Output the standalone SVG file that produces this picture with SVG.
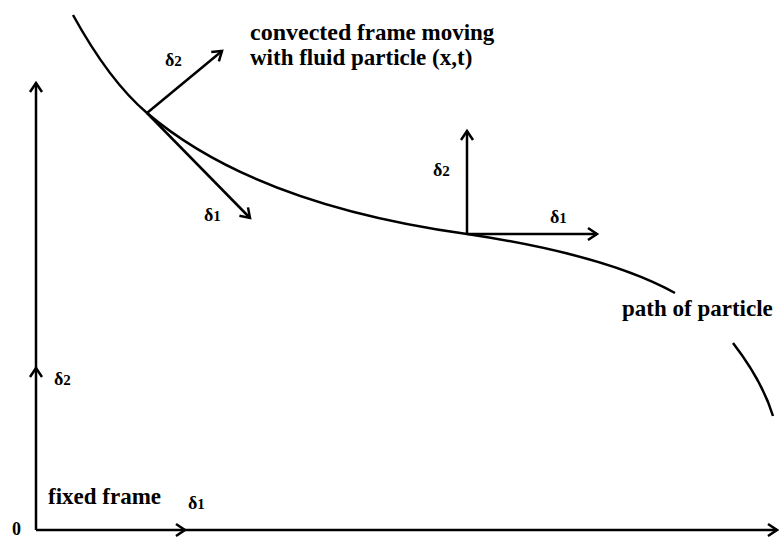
<svg xmlns="http://www.w3.org/2000/svg" width="779" height="539" viewBox="0 0 779 539">
<style>
.ln{fill:none;stroke:#000;stroke-width:2.5}
.t{font-family:"Liberation Serif","Times New Roman",serif;font-weight:bold;fill:#000}
.d{font-family:"Liberation Serif","Times New Roman",serif;font-weight:bold;font-size:18px;fill:#000}
.s{font-size:15px}
</style>
<defs>
<marker id="ah" markerUnits="userSpaceOnUse" markerWidth="14" markerHeight="16" refX="11" refY="7" orient="auto" viewBox="0 0 14 14">
<path d="M2,1 L11,7 L2,13" fill="none" stroke="#000" stroke-width="2.5"/>
</marker>
</defs>
<rect width="779" height="539" fill="#fff"/>
<g id="connectors">
<path id="path" class="ln" d="M73,15 C95,55 120,90 147,113 C220,175 330,215 467,234 C560,248 630,268 675,293"/>
<path id="path2" class="ln" d="M733,343 C750,365 765,390 773,416"/>
<path class="ln" d="M36,530 L36,368 L36,83" marker-mid="url(#ah)" marker-end="url(#ah)"/>
<path class="ln" d="M36,530 L185,530 L777,530" marker-mid="url(#ah)" marker-end="url(#ah)"/>
<path class="ln" d="M147,113 L222,51" marker-end="url(#ah)"/>
<path class="ln" d="M147,113 L250,218" marker-end="url(#ah)"/>
<path class="ln" d="M467,234 L467,131" marker-end="url(#ah)"/>
<path class="ln" d="M467,234 L597,234" marker-end="url(#ah)"/>
</g>
<g id="fixed-frame">
<text class="t" x="12" y="535" font-size="18">0</text>
<text class="t" x="48" y="504" font-size="23">fixed frame</text>
<text class="d" x="188" y="509">δ<tspan class="s">1</tspan></text>
<text class="d" x="54" y="385">δ<tspan class="s">2</tspan></text>
</g>
<g id="convected-frame-1">
<text class="d" x="165" y="66">δ<tspan class="s">2</tspan></text>
<text class="d" x="204" y="221">δ<tspan class="s">1</tspan></text>
</g>
<g id="convected-frame-2">
<text class="d" x="433" y="176">δ<tspan class="s">2</tspan></text>
<text class="d" x="550" y="223">δ<tspan class="s">1</tspan></text>
</g>
<g id="labels">
<text class="t" x="250" y="40" font-size="23"><tspan font-size="24">convected</tspan> frame moving</text>
<text class="t" x="250" y="65" font-size="23">with fluid particle (x,t)</text>
<text class="t" x="622" y="316" font-size="23">path of particle</text>
</g>
</svg>
